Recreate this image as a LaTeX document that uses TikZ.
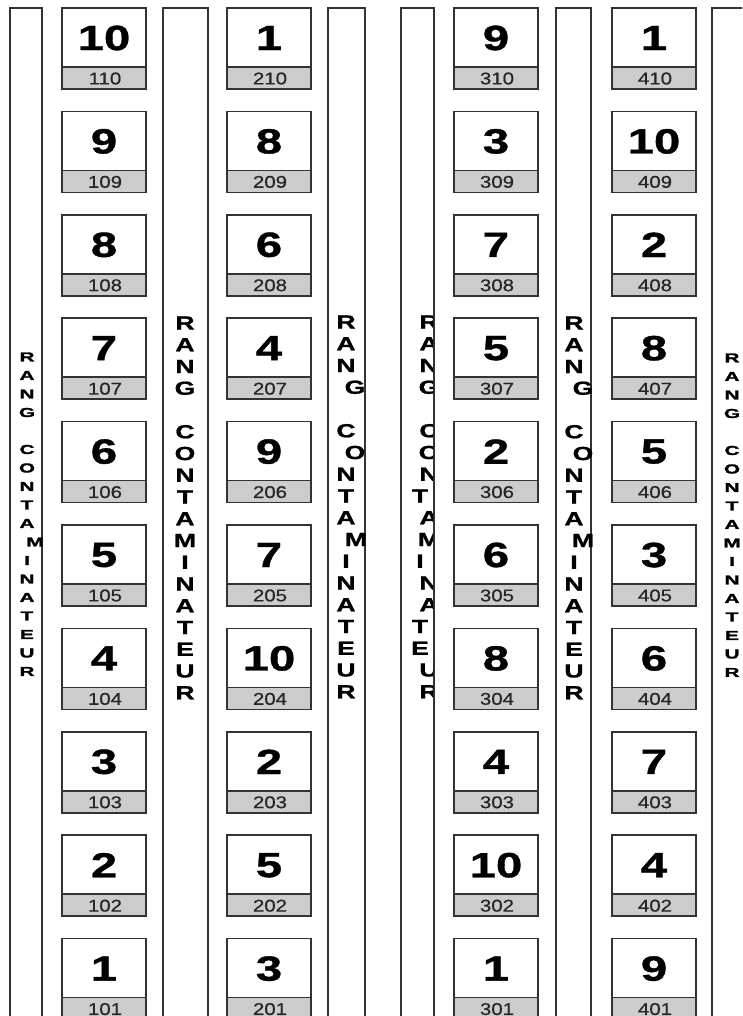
\documentclass[tikz,border=0pt]{standalone}
\usepackage{fontspec}
\setmainfont{Liberation Sans}
\newfontfamily\bignumfont{Liberation Sans Bold}[FakeStretch=1.35,FakeBold=1]
\newfontfamily\labfont{Liberation Sans}[FakeStretch=1.2,FakeBold=0.6]
\newfontfamily\rangfont{Liberation Sans Bold}[FakeStretch=1.4,FakeBold=1]
\newfontfamily\rangsmallfont{Liberation Sans Bold}[FakeStretch=1.6,FakeBold=2]
\newcommand\rangtext[9]{%
  \foreach \ch/\i/\w in {R/1/1,A/2/1,N/3/1,G/4/1,C/6/1,O/7/1,N/8/1,T/9/0,A/10/1,M/11/1,I/12/0,N/13/1,A/14/1,T/15/0,E/16/0,U/17/1,R/18/1}{%
    \pgfmathsetmacro\dx{#1+(\i==4)*#5+(\i==7)*#6+(\i==11)*#7+\w*#8}%
    \pgfmathsetmacro\dy{#2+(\i-1)*#3}%
    \node[#4] (#9-\i) at (\dx,\dy) {\ch};
  }}
\begin{document}
\begin{tikzpicture}[x=1pt,y=-1pt,
  frame/.style={draw=black!80,line width=1.6pt},
  numtop/.style={frame,fill=white},
  numbot/.style={frame,fill=gray!40},
  bignum/.style={inner sep=0pt,font=\bignumfont\fontsize{35}{35}\selectfont},
  labnum/.style={inner sep=0pt,text=black!85,font=\labfont\fontsize{17}{17}\selectfont},
  rangbig/.style={inner sep=0pt,font=\rangfont\fontsize{19}{19}\selectfont},
  rangsmall/.style={inner sep=0pt,font=\rangsmallfont\fontsize{13}{13}\selectfont}]
\useasboundingbox (0,0) rectangle (742,1016);
\clip (0,0) rectangle (742,1016);
\fill[white] (0,0) rectangle (742,1016);
% strips
\draw[frame] (10,8) rectangle (42,1040);
\draw[frame] (163,8) rectangle (208,1040);
\draw[frame] (328,8) rectangle (365,1040);
\draw[frame] (401,8) rectangle (434,1040);
\draw[frame] (556,8) rectangle (591,1040);
\draw[frame] (712,8) rectangle (760,1040);
% strip texts
\rangtext{27}{357}{18.5}{rangsmall}{0}{0}{8}{0}{sa}
\rangtext{185}{323}{21.75}{rangbig}{0}{0}{0}{0}{sb}
\rangtext{346}{322}{21.75}{rangbig}{9}{9}{10}{0}{sc}
\begin{scope}
  \clip (402,8) rectangle (433,1040);
  \rangtext{420}{322}{21.75}{rangbig}{0}{0}{0}{9}{sd}
\end{scope}
\rangtext{574}{323}{21.75}{rangbig}{9}{9}{9}{0}{se}
\rangtext{732}{358}{18.5}{rangsmall}{0}{0}{0}{0}{sf}
% boxes
\foreach \xl/\lst in {62/{10/110,9/109,8/108,7/107,6/106,5/105,4/104,3/103,2/102,1/101},
                      227/{1/210,8/209,6/208,4/207,9/206,7/205,10/204,2/203,5/202,3/201},
                      454/{9/310,3/309,7/308,5/307,2/306,6/305,8/304,4/303,10/302,1/301},
                      612/{1/410,10/409,2/408,8/407,5/406,3/405,6/404,7/403,4/402,9/401}}{
  \foreach \n/\l [count=\r] in \lst {
    \pgfmathsetmacro\t{8+103.4*(\r-1)}
    \draw[numtop] (\xl,\t) rectangle ++(84,59);
    \draw[numbot] (\xl,\t+59) rectangle ++(84,22);
    \node[bignum] (n\l) at (\xl+42,\t+30) {\n};
    \node[labnum] (l\l) at (\xl+43,\t+70.5) {\l};
  }
}
\end{tikzpicture}
\end{document}
